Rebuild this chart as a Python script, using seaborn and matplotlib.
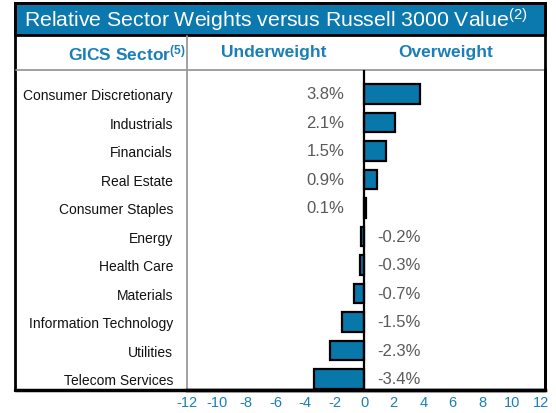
import matplotlib.pyplot as plt
import seaborn as sns
import pandas as pd
from matplotlib.patches import Rectangle
from matplotlib.lines import Line2D

setores = [
    "Consumer Discretionary",
    "Industrials",
    "Financials",
    "Real Estate",
    "Consumer Staples",
    "Energy",
    "Health Care",
    "Materials",
    "Information Technology",
    "Utilities",
    "Telecom Services",
]
pesos = [3.8, 2.1, 1.5, 0.9, 0.1, -0.2, -0.3, -0.7, -1.5, -2.3, -3.4]
ticks_x = [-12, -10, -8, -6, -4, -2, 0, 2, 4, 6, 8, 10, 12]

azul_faixa = "#0b78ae"
azul_barra = "#0877aa"
azul_texto = "#1a7fb8"

sns.set_theme(style="white")
plt.rcParams["font.family"] = ["Liberation Sans", "DejaVu Sans"]
plt.rcParams["axes.unicode_minus"] = False
plt.rcParams["mathtext.fontset"] = "custom"
plt.rcParams["mathtext.rm"] = "Liberation Sans"
plt.rcParams["mathtext.it"] = "Liberation Sans"
plt.rcParams["mathtext.bf"] = "Liberation Sans:bold"

W, H = 556, 414
fig = plt.figure(figsize=(W / 100, H / 100), dpi=100)


def fx(px):
    return px / W


def fy(py):
    return 1 - py / H


ax = fig.add_axes([fx(187), fy(391), fx(545) - fx(187), fy(71) - fy(391)])
df = pd.DataFrame({"setor": setores, "peso": pesos})
sns.barplot(
    data=df,
    x="peso",
    y="setor",
    orient="h",
    color=azul_barra,
    saturation=1,
    edgecolor="black",
    linewidth=1.6,
    width=0.68,
    ax=ax,
)
ax.axvline(0, color="black", lw=1.6, zorder=5)
ax.set_xlim(-12, 12.25)
ax.set_ylim(10.39, -0.84)
ax.set_xticks(ticks_x)
ax.set_xlabel("")
ax.set_ylabel("")
ax.tick_params(axis="x", length=0, pad=3.5, labelsize=10.5, labelcolor=azul_texto)
ax.tick_params(axis="y", length=0, pad=10, labelsize=10, labelcolor="#111111")

# rótulos de valor ao lado do zero
for i, v in enumerate(pesos):
    if v > 0:
        ax.text(-1.35, i, f"{v:.1f}%", ha="right", va="center", fontsize=12, color="#5a5a5a")
    else:
        ax.text(0.9, i, f"{v:.1f}%", ha="left", va="center", fontsize=12, color="#5a5a5a")

ax.spines["left"].set_color("#9a9a9a")
ax.spines["left"].set_linewidth(1.3)
ax.spines["top"].set_color("#9a9a9a")
ax.spines["top"].set_linewidth(1.3)
ax.spines["right"].set_color("black")
ax.spines["right"].set_linewidth(2)
ax.spines["bottom"].set_color("black")
ax.spines["bottom"].set_linewidth(2.5)

# moldura, faixa do título e linhas do cabeçalho
fig.add_artist(Rectangle((fx(15), fy(36)), fx(545) - fx(15), fy(4) - fy(36),
                         facecolor=azul_faixa, edgecolor="black", lw=2, transform=fig.transFigure))
fig.add_artist(Rectangle((fx(15), fy(391)), fx(545) - fx(15), fy(4) - fy(391),
                         fill=False, edgecolor="black", lw=2, transform=fig.transFigure))
fig.add_artist(Line2D([fx(16), fx(187)], [fy(71), fy(71)], color="#9a9a9a", lw=1.3))
fig.add_artist(Line2D([fx(187), fx(187)], [fy(37), fy(71)], color="#9a9a9a", lw=1.3))
fig.add_artist(Line2D([fx(15), fx(545)], [fy(391), fy(391)], color="black", lw=2.5))

fig.text(fx(24), fy(20), r"Relative Sector Weights versus Russell 3000 Value$^{(2)}$",
         color="white", fontsize=15.3, ha="left", va="center")
fig.text(fx(186), fy(53), r"GICS Sector$^{\mathbf{(5)}}$", color=azul_texto,
         fontsize=12.5, fontweight="bold", ha="right", va="center")
fig.text(fx(274), fy(53), "Underweight", color=azul_texto, fontsize=12.5,
         fontweight="bold", ha="center", va="center")
fig.text(fx(446), fy(53), "Overweight", color=azul_texto, fontsize=12.5,
         fontweight="bold", ha="center", va="center")

fig.savefig("out.png", dpi=100)
